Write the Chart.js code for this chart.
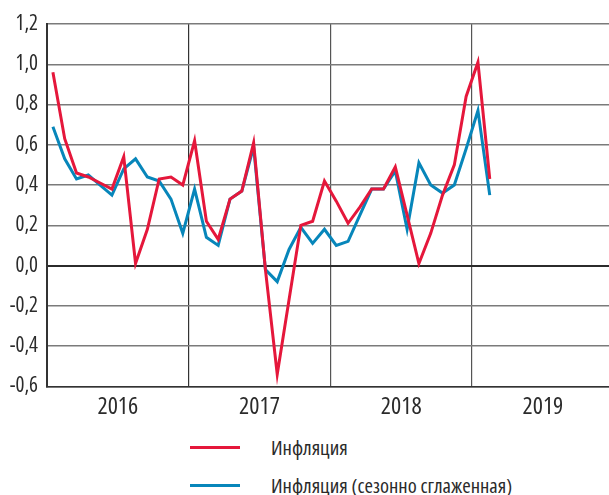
<!DOCTYPE html>
<html lang="ru">
<head>
<meta charset="utf-8">
<title>Инфляция</title>
<script src="https://cdn.jsdelivr.net/npm/chart.js@4"></script>
<style>
  body{ margin:0; background:#fff; }
  #wrap{ position:relative; width:609px; height:495px; }
  #box{ position:absolute; left:0; top:0; width:609px; height:425px; }
  #legend{ position:absolute; left:190px; top:428px; font-family:'Open Sans',sans-serif; font-stretch:condensed; font-size:20.5px; color:#2b2b2b; }
  .item{ display:flex; align-items:center; height:38px; }
  .item i{ display:inline-block; width:50px; height:3px; margin-right:31px; }
</style>
</head>
<body>
<div id="wrap">
  <div id="box"><canvas id="chart"></canvas></div>
  <div id="legend"></div>
</div>
<script>
/* ===== данные (январь 2016 – февраль 2019, % м/м) ===== */
const years = ['2016','2017','2018','2019'];
const infl   = [0.96,0.63,0.46,0.44,0.41,0.38,0.54,0.01,0.18,0.43,0.44,0.40,
                0.62,0.22,0.13,0.33,0.37,0.61,-0.02,-0.54,-0.17,0.20,0.22,0.42,
                0.32,0.21,0.29,0.38,0.38,0.49,0.25,0.01,0.16,0.35,0.50,0.84,
                1.01,0.43];
const inflSA = [0.69,0.53,0.43,0.45,0.40,0.35,0.48,0.53,0.44,0.42,0.33,0.16,
                0.38,0.14,0.10,0.33,0.37,0.59,-0.02,-0.08,0.08,0.19,0.11,0.18,
                0.10,0.12,0.25,0.38,0.38,0.47,0.18,0.51,0.40,0.36,0.40,0.58,
                0.77,0.35];
const names  = ['Инфляция','Инфляция (сезонно сглаженная)'];
const yTicks = [-0.6,-0.4,-0.2,0,0.2,0.4,0.6,0.8,1.0,1.2];
const xTicks = [0,6,12,18,24,30,36,42];   // месяцы от января 2016

const RED='#e5173b', BLUE='#0786ba', INK='#2b2b2b';
const FAM="'Open Sans', sans-serif";
const COND='400 condensed';   // идёт в ctx.font перед размером

// точка в середине месяца
const pts = arr => arr.map((v,i)=>({x:i+0.5, y:v}));

const chart = new Chart(document.getElementById('chart'), {
  type:'line',
  data:{ datasets:[
    { label:names[0], data:pts(infl), borderColor:RED, backgroundColor:RED,
      borderWidth:3, pointRadius:0, tension:0, borderJoinStyle:'miter' },
    { label:names[1], data:pts(inflSA), borderColor:BLUE, backgroundColor:BLUE,
      borderWidth:3, pointRadius:0, tension:0, borderJoinStyle:'miter' }
  ]},
  options:{
    responsive:true, maintainAspectRatio:false, animation:false,
    layout:{ padding:{ top:24, right:0, bottom:0, left:0 } },
    plugins:{ legend:{ display:false }, tooltip:{ enabled:false } },
    scales:{
      x:{
        type:'linear', min:0, max:47.6,
        afterBuildTicks: s => { s.ticks = xTicks.map(v=>({value:v})); },
        afterFit: s => { s.height = 38.7; },
        ticks:{ autoSkip:false, maxRotation:0, padding:6, color:INK,
          font:{ family:FAM, size:24, weight:COND },
          callback: v => v%12===6 ? years[(v-6)/12] : '' },
        grid:{ drawTicks:false,
          color: c => (c.tick && c.tick.value%12===0 && c.tick.value>0) ? (c.tick.value===12?'#333':'#555') : 'transparent',
          lineWidth:1.2 },
        border:{ color:'#333', width:1.5 }
      },
      y:{
        min:-0.6, max:1.2,
        afterBuildTicks: s => { s.ticks = yTicks.map(v=>({value:v})); },
        afterFit: s => { s.width = 47; },
        ticks:{ padding:9, color:INK,
          font:{ family:FAM, size:21, weight:COND },
          callback: v => (Math.round(v*10)/10).toFixed(1).replace('.',',') },
        grid:{ drawTicks:false,
          color: c => (c.tick && Math.abs(c.tick.value)<1e-9) ? '#2b2b2b' : '#7a7a7a',
          lineWidth: c => (c.tick && Math.abs(c.tick.value)<1e-9) ? 2 : 1.5 },
        border:{ color:'#333', width:2 }
      }
    }
  }
});

/* ===== легенда (столбиком, как в оригинале) ===== */
const legendEl=document.getElementById('legend');
Chart.defaults.plugins.legend.labels.generateLabels(chart).forEach(it=>{
  const row=document.createElement('div'); row.className='item';
  const sw=document.createElement('i'); sw.style.background=it.strokeStyle;
  const tx=document.createElement('span'); tx.textContent=it.text;
  row.append(sw,tx); legendEl.appendChild(row);
});
</script>
</body>
</html>
